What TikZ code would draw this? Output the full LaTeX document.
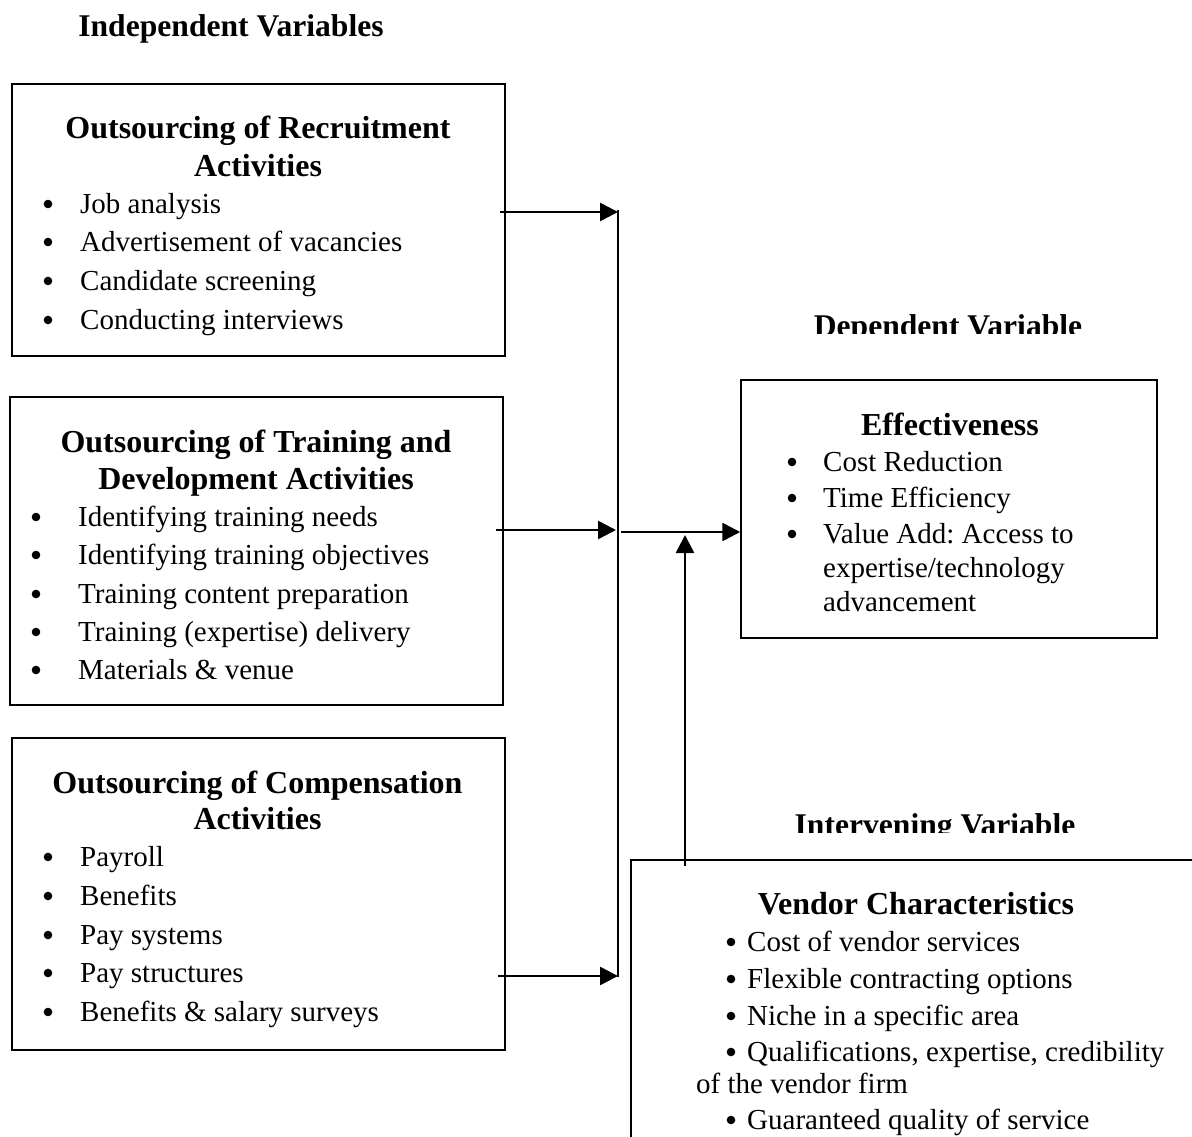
\documentclass[tikz,border=0pt]{standalone}
\usepackage{fontspec}
\setmainfont{Liberation Serif}
\usetikzlibrary{arrows.meta}
\frenchspacing
\tikzset{
  box/.style={draw=black, line width=1.5pt, fill=none, inner sep=0pt},
  ttl/.style={inner sep=0pt, anchor=base, font=\fontsize{32}{37}\selectfont\bfseries},
  hdg/.style={inner sep=0pt, anchor=base, font=\fontsize{31.6}{36}\selectfont\bfseries},
  itm/.style={inner sep=0pt, anchor=base west, font=\fontsize{29}{34}\selectfont},
  bul/.style={fill=black},
  arr/.style={line width=2.6pt, -{Triangle[length=18pt,width=18pt]}},
  busline/.style={line width=1.5pt},
}
\begin{document}
\begin{tikzpicture}[x=1pt,y=-1pt]
\useasboundingbox (0,0) rectangle (1192,1137);
\fill[white] (0,0) rectangle (1192,1137);

% headings
\node[hdg] (hind) at (231,37) {Independent Variables};
\begin{scope}
\clip (700,290) rectangle (1192,333.5);
\node[hdg] (hdep) at (948,336) {Dependent Variable};
\end{scope}
\begin{scope}
\clip (700,790) rectangle (1192,832);
\node[hdg] (hint) at (935,835) {Intervening Variable};
\end{scope}

% Box 1
\node[box, minimum width=493pt, minimum height=272pt] (b1) at (258.5,220) {};
\node[ttl] (b1t1) at (258,139) {Outsourcing of Recruitment};
\node[ttl] (b1t2) at (258,176) {Activities};
\foreach \y/\t [count=\i] in {213/Job analysis, 251/Advertisement of vacancies, 290/Candidate screening, 329/Conducting interviews}{
  \fill[bul] (48,\y-9) circle (4.3);
  \node[itm] (b1i\i) at (80,\y) {\t};
}

% Box 2
\node[box, minimum width=493pt, minimum height=308pt] (b2) at (256.5,551) {};
\node[ttl] (b2t1) at (256,452) {Outsourcing of Training and};
\node[ttl] (b2t2) at (256,489) {Development Activities};
\foreach \y/\t [count=\i] in {526/Identifying training needs, 564/Identifying training objectives, 603/Training content preparation, 641/Training (expertise) delivery, 679/Materials \& venue}{
  \fill[bul] (36,\y-9) circle (4.3);
  \node[itm] (b2i\i) at (78,\y) {\t};
}

% Box 3
\node[box, minimum width=493pt, minimum height=312pt] (b3) at (258.5,894) {};
\node[ttl] (b3t1) at (257.5,793) {Outsourcing of Compensation};
\node[ttl] (b3t2) at (257.5,829) {Activities};
\foreach \y/\t [count=\i] in {866/Payroll, 905/Benefits, 944/Pay systems, 982/Pay structures, 1021/Benefits \& salary surveys}{
  \fill[bul] (48,\y-9) circle (4.3);
  \node[itm] (b3i\i) at (80,\y) {\t};
}

% Effectiveness box
\node[box, minimum width=416pt, minimum height=258pt] (eff) at (949,509) {};
\node[ttl] (efft) at (950,435) {Effectiveness};
\foreach \y/\t [count=\i] in {471/Cost Reduction, 507/Time Efficiency, 543/Value Add: Access to}{
  \fill[bul] (792,\y-9) circle (4.3);
  \node[itm] (effi\i) at (823,\y) {\t};
}
\node[itm] (effi4) at (823,577) {expertise/technology};
\node[itm] (effi5) at (823,611) {advancement};

% Vendor box (runs off the page)
\coordinate (vtr) at (1195,860);
\coordinate (vtl) at (631,860);
\coordinate (vbl) at (631,1140);
\draw[busline] (vtr) -- (vtl) -- (vbl);
\node[ttl] (vent) at (916,914) {Vendor Characteristics};
\foreach \y/\t [count=\i] in {951/Cost of vendor services, 988/Flexible contracting options, 1025/Niche in a specific area, 1061/{Qualifications, expertise, credibility}}{
  \fill[bul] (731,\y-9) circle (4.3);
  \node[itm] (veni\i) at (747,\y) {\t};
}
\node[itm] (veni5) at (696,1093) {of the vendor firm};
\fill[bul] (731,1120) circle (4.3);
\node[itm] (veni6) at (747,1129) {Guaranteed quality of service};

% connectors
\coordinate (bustop) at (618,210);
\coordinate (busbot) at (618,977);
\draw[busline] (bustop) -- (busbot);
\coordinate (a1s) at (500,212);
\coordinate (a1e) at (618,212);
\coordinate (a2s) at (496,530);
\coordinate (a2e) at (616,530);
\coordinate (a3s) at (498,976);
\coordinate (a3e) at (618,976);
\coordinate (a4s) at (621,532);
\coordinate (a5s) at (685,866);
\coordinate (a5e) at (685,535);
\draw[arr] (a1s) -- (a1e);
\draw[arr] (a2s) -- (a2e);
\draw[arr] (a3s) -- (a3e);
\draw[arr] (a4s) -- (eff.west |- a4s);
\draw[arr] (a5s) -- (a5e);
\end{tikzpicture}
\end{document}
